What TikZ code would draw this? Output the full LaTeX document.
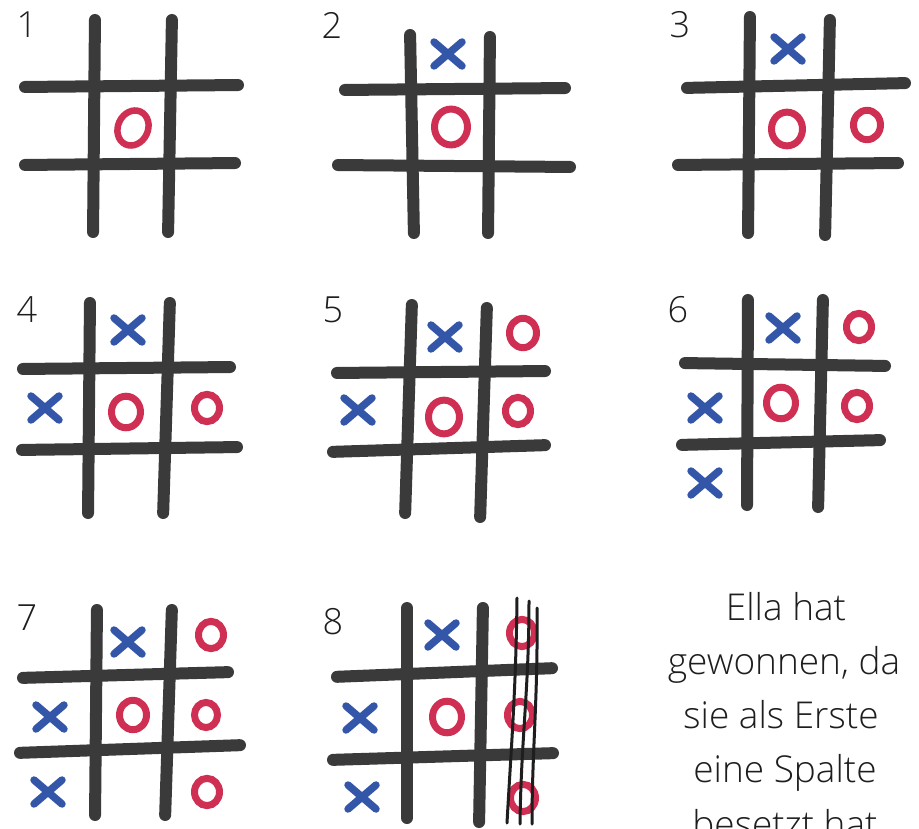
\documentclass[tikz,border=0pt]{standalone}
\usepackage{fontspec}
\IfFontExistsTF{Open Sans Light}{\setmainfont{Open Sans Light}}{\setmainfont{Open Sans}}
\definecolor{gridc}{HTML}{3A3A3A}
\definecolor{xblue}{HTML}{3356A8}
\definecolor{ored}{HTML}{CF2F52}
\definecolor{txt}{HTML}{1E1E1E}
\tikzset{
  gridline/.style={draw=gridc, line width=12pt, line cap=round, shorten <=5pt, shorten >=5pt},
  xstroke/.style={draw=xblue, line width=7.5pt, line cap=round},
  ostroke/.style={draw=ored, line width=7pt},
  strike/.style={draw=txt, line width=3pt, line cap=round},
  numlabel/.style={font=\fontsize{36}{40}\selectfont, text=txt, inner sep=0pt},
  msgline/.style={font=\fontsize{37}{44}\selectfont, text=txt, inner sep=0pt, anchor=base},
  xm/.pic={\draw[xstroke] (-14,-12) -- (14,12) (-14,12) -- (14,-12);},
}
\newcommand\omk[3]{\draw[ostroke] (#1,#2) ellipse [x radius=#3-1.5, y radius=#3*1.08-1.5];}
\begin{document}
\begin{tikzpicture}[x=1pt,y=-1pt]
\useasboundingbox[fill=white] (0,0) rectangle (919,829);

% ---------- Board 1 ----------
\node[numlabel] (n1) at (27,25) {1};
\draw[gridline] (95,15) -- (93,237);
\draw[gridline] (172,15) -- (168,237);
\draw[gridline] (20,87) -- (243,85);
\draw[gridline] (20,165) -- (240,163);
\draw[ostroke, line width=6.5pt] (133,128) ellipse [x radius=15, y radius=18, rotate=-25];

% ---------- Board 2 ----------
\node[numlabel] (n2) at (332,25) {2};
\draw[gridline] (410,30) -- (414,238);
\draw[gridline] (490,32) -- (488,238);
\draw[gridline] (340,90) -- (570,88);
\draw[gridline] (333,165) -- (575,167);
\pic at (448,54) {xm};
\omk{451}{127}{18}

% ---------- Board 3 ----------
\node[numlabel] (n3) at (680,25) {3};
\draw[gridline] (750,12) -- (748,238);
\draw[gridline] (830,15) -- (825,240);
\draw[gridline] (682,88) -- (910,83);
\draw[gridline] (673,165) -- (903,163);
\pic at (788,49) {xm};
\omk{787}{129}{17}
\omk{867}{125}{15}

% ---------- Board 4 ----------
\node[numlabel] (n4) at (27,310) {4};
\draw[gridline] (90,298) -- (88,518);
\draw[gridline] (170,298) -- (163,518);
\draw[gridline] (18,369) -- (235,367);
\draw[gridline] (17,450) -- (242,447);
\pic at (128,330) {xm};
\pic at (45,408) {xm};
\omk{126}{412}{16}
\omk{207}{408}{14}

% ---------- Board 5 ----------
\node[numlabel] (n5) at (333,310) {5};
\draw[gridline] (412,300) -- (405,518);
\draw[gridline] (487,303) -- (480,522);
\draw[gridline] (332,373) -- (550,371);
\draw[gridline] (328,452) -- (550,445);
\pic at (445,337) {xm};
\pic at (358,410) {xm};
\omk{444}{417}{17}
\omk{523}{333}{15}
\omk{518}{411}{14}

% ---------- Board 6 ----------
\node[numlabel] (n6) at (678,310) {6};
\draw[gridline] (748,295) -- (747,510);
\draw[gridline] (823,295) -- (818,512);
\draw[gridline] (680,363) -- (890,366);
\draw[gridline] (677,445) -- (885,440);
\pic at (783,328) {xm};
\pic at (705,408) {xm};
\pic at (705,483) {xm};
\omk{781}{403}{16}
\omk{859}{327}{14}
\omk{857}{406}{14}

% ---------- Board 7 ----------
\node[numlabel] (n7) at (27,618) {7};
\draw[gridline] (97,605) -- (95,820);
\draw[gridline] (172,605) -- (165,820);
\draw[gridline] (18,678) -- (233,672);
\draw[gridline] (15,753) -- (245,745);
\pic at (128,642) {xm};
\pic at (50,717) {xm};
\pic at (48,792) {xm};
\omk{133}{715}{15}
\omk{211}{635}{14}
\omk{206}{715}{13}
\omk{207}{792}{14}

% ---------- Board 8 ----------
\node[numlabel] (n8) at (333,622) {8};
\draw[gridline] (407,603) -- (407,823);
\draw[gridline] (483,603) -- (479,827);
\draw[gridline] (332,677) -- (557,668);
\draw[gridline] (328,760) -- (558,753);
\pic at (442,635) {xm};
\pic at (360,718) {xm};
\pic at (362,797) {xm};
\omk{447}{717}{16}
\omk{522}{633}{14}
\omk{520}{715}{14}
\omk{523}{798}{14}
\draw[strike] (517,598) .. controls (516,690) and (511,750) .. (507,823);
\draw[strike] (529,601) .. controls (529,690) and (521,740) .. (520,824);
\draw[strike] (537,608) .. controls (538,700) and (532,750) .. (532,824);

% ---------- Message ----------
\node[msgline] (t1) at (786,620) {Ella hat};
\node[msgline] (t2) at (784,674) {gewonnen, da};
\node[msgline] (t3) at (781,728) {sie als Erste};
\node[msgline] (t4) at (785,782) {eine Spalte};
\node[msgline] (t5) at (785,837) {besetzt hat};
\end{tikzpicture}
\end{document}
